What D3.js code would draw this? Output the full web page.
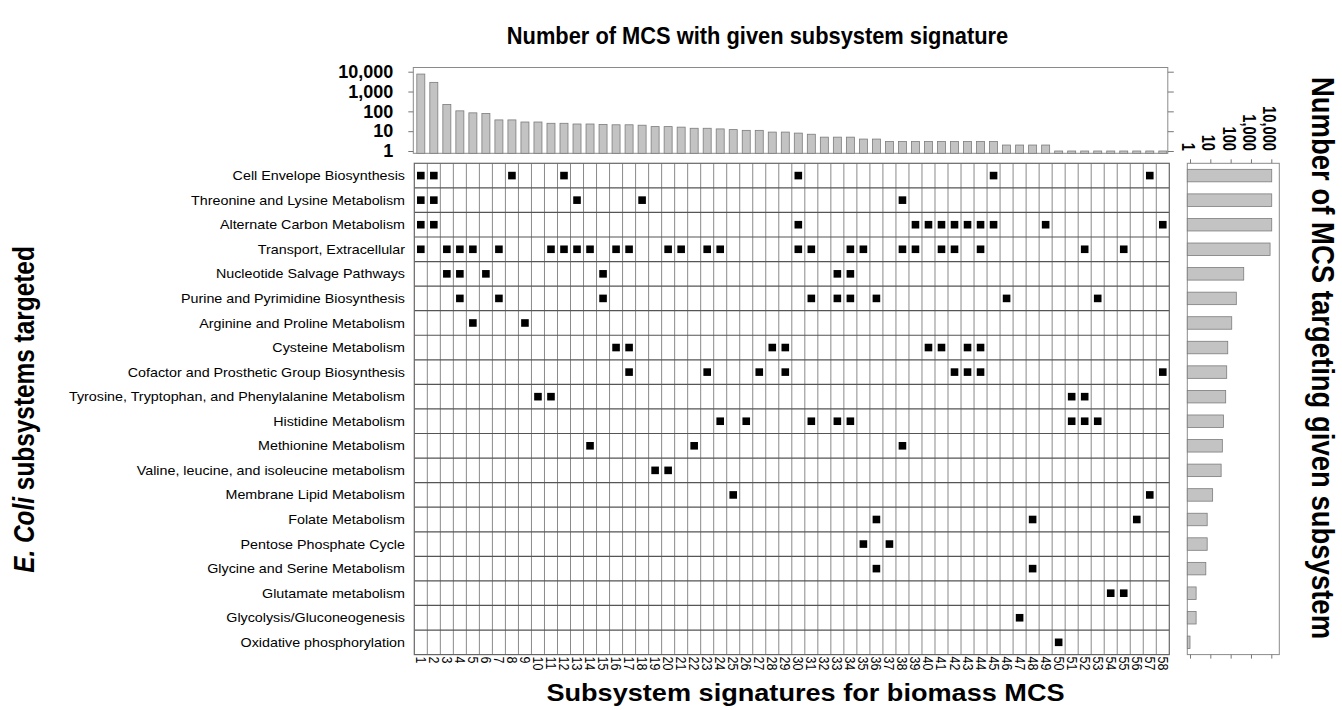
<!DOCTYPE html>
<html>
<head>
<meta charset="utf-8">
<script src="https://cdnjs.cloudflare.com/ajax/libs/d3/7.8.5/d3.min.js"></script>
<style>
    body { margin: 0; background: #fff; }
    svg text { font-family: "Liberation Sans", Arial, Helvetica, sans-serif; fill: #000; }
</style>
</head>
<body>
<div id="chart"></div>
<script>

var subsystems = [
    "Cell Envelope Biosynthesis",
    "Threonine and Lysine Metabolism",
    "Alternate Carbon Metabolism",
    "Transport, Extracellular",
    "Nucleotide Salvage Pathways",
    "Purine and Pyrimidine Biosynthesis",
    "Arginine and Proline Metabolism",
    "Cysteine Metabolism",
    "Cofactor and Prosthetic Group Biosynthesis",
    "Tyrosine, Tryptophan, and Phenylalanine Metabolism",
    "Histidine Metabolism",
    "Methionine Metabolism",
    "Valine, leucine, and isoleucine metabolism",
    "Membrane Lipid Metabolism",
    "Folate Metabolism",
    "Pentose Phosphate Cycle",
    "Glycine and Serine Metabolism",
    "Glutamate metabolism",
    "Glycolysis/Gluconeogenesis",
    "Oxidative phosphorylation"
];

var signatureLabels = ["1","2","3","4","5","6","7","8","9","10","11","12","13","14","15","16","17","18","19","20",
    "21","22","23","24","25","26","27","28","29","30","31","32","33","34","35","36","37","38","39","40",
    "41","42","43","44","45","46","47","48","49","50","51","52","53","54","55","56","57","58"];

// number of MCS per signature (top bars, log scale)
var signatureCounts = [7600, 2900, 224, 106, 84, 78, 37, 37, 29, 29, 25, 25, 23, 23, 22, 21, 21, 20, 17, 17,
    16, 14, 14, 13, 12, 11, 11, 9, 9, 8, 7, 5, 5, 5, 4, 4, 3, 3, 3, 3,
    3, 3, 3, 3, 3, 2, 2, 2, 2, 1, 1, 1, 1, 1, 1, 1, 1, 1];

// number of MCS targeting each subsystem (right bars, log scale)
var subsystemCounts = [10500, 10500, 10500, 8700, 440, 190, 113, 72, 64, 57, 44, 39, 34, 13, 7, 7, 6, 2, 2, 1];

// signatures (columns) that hit each subsystem (rows)
var signatureTargets = [
    [1, 2, 8, 12, 30, 45, 57],
    [1, 2, 13, 18, 38],
    [1, 2, 30, 39, 40, 41, 42, 43, 44, 45, 49, 58],
    [1, 3, 4, 5, 7, 11, 12, 13, 14, 16, 17, 20, 21, 23, 24, 30, 31, 34, 35, 38, 39, 41, 42, 44, 52, 55],
    [3, 4, 6, 15, 33, 34],
    [4, 7, 15, 31, 33, 34, 36, 46, 53],
    [5, 9],
    [16, 17, 28, 29, 40, 41, 43, 44],
    [17, 23, 27, 29, 42, 43, 44, 58],
    [10, 11, 51, 52],
    [24, 26, 31, 33, 34, 51, 52, 53],
    [14, 22, 38],
    [19, 20],
    [25, 57],
    [36, 48, 56],
    [35, 37],
    [36, 48],
    [54, 55],
    [47],
    [50]
];

var logTicks = [1, 10, 100, 1000, 10000];


SignatureMatrix = function(_parentElement){
    this.parentElement = _parentElement;
    this.initVis();
};

SignatureMatrix.prototype.initVis = function() {
    var vis = this;

    vis.width = 1342;
    vis.height = 710;

    vis.svg = d3.select("#" + vis.parentElement).append("svg")
        .attr("width", vis.width)
        .attr("height", vis.height);

    // matrix area
    vis.grid = {left: 414.3, right: 1169.3, top: 163.3, bottom: 654.6};
    // top bar panel
    vis.topPanel = {left: 413.3, right: 1167.8, top: 67.5, bottom: 153.3};
    // right bar panel
    vis.sidePanel = {left: 1187.3, right: 1279.3};

    vis.x = d3.scaleBand()
        .domain(signatureLabels)
        .range([vis.grid.left, vis.grid.right]);

    vis.y = d3.scaleBand()
        .domain(subsystems)
        .range([vis.grid.top, vis.grid.bottom]);

    vis.yTop = d3.scaleLog()
        .domain([1, 10000])
        .range([151, 71.7]);

    vis.xSide = d3.scaleLog()
        .domain([1, 10000])
        .range([1190, 1271.3]);

    vis.wrangleData();
};

SignatureMatrix.prototype.wrangleData = function(){
    var vis = this;

    vis.cells = [];
    signatureTargets.forEach(function(cols, i){
        cols.forEach(function(c){
            vis.cells.push({subsystem: subsystems[i], signature: String(c)});
        });
    });

    vis.topData = signatureLabels.map(function(s, i){ return {signature: s, value: signatureCounts[i]}; });
    vis.sideData = subsystems.map(function(s, i){ return {subsystem: s, value: subsystemCounts[i]}; });

    vis.updateVis();
};

SignatureMatrix.prototype.updateVis = function() {
    var vis = this;
    var bw = vis.x.bandwidth(), bh = vis.y.bandwidth();

    // ---- top bar chart ----
    vis.svg.append("rect")
        .attr("x", vis.topPanel.left)
        .attr("y", vis.topPanel.top)
        .attr("width", vis.topPanel.right - vis.topPanel.left)
        .attr("height", vis.topPanel.bottom - vis.topPanel.top)
        .attr("fill", "none")
        .attr("stroke", "#8a8a8a")
        .attr("stroke-width", 1);

    vis.svg.selectAll(".top-bar")
        .data(vis.topData)
        .enter().append("rect")
        .attr("class", "top-bar")
        .attr("x", function(d){ return vis.x(d.signature) + (bw - 8) / 2; })
        .attr("y", function(d){ return vis.yTop(d.value); })
        .attr("width", 8)
        .attr("height", function(d){ return vis.topPanel.bottom - vis.yTop(d.value); })
        .attr("fill", "#c3c3c3")
        .attr("stroke", "#7c7c7c")
        .attr("stroke-width", 0.8);

    var leftAxis = vis.svg.append("g")
        .attr("transform", "translate(" + vis.topPanel.left + ",0)")
        .call(d3.axisLeft(vis.yTop).tickValues(logTicks).tickSize(5).tickPadding(15)
            .tickFormat(d3.format(",")));
    leftAxis.select(".domain").remove();
    leftAxis.selectAll("line").attr("stroke", "#777");
    leftAxis.selectAll("text")
        .attr("font-size", 18)
        .attr("font-weight", "bold")
        .attr("font-family", "'Liberation Sans', Arial, sans-serif");

    var rightAxis = vis.svg.append("g")
        .attr("transform", "translate(" + vis.topPanel.right + ",0)")
        .call(d3.axisRight(vis.yTop).tickValues(logTicks).tickSize(6).tickFormat(""));
    rightAxis.select(".domain").remove();
    rightAxis.selectAll("line").attr("stroke", "#777");

    // ---- matrix ----
    vis.svg.append("rect")
        .attr("x", vis.grid.left)
        .attr("y", vis.grid.top)
        .attr("width", vis.grid.right - vis.grid.left)
        .attr("height", vis.grid.bottom - vis.grid.top)
        .attr("fill", "#fff");

    vis.svg.selectAll(".vline")
        .data(signatureLabels.slice(1))
        .enter().append("line")
        .attr("class", "vline")
        .attr("x1", function(d){ return vis.x(d); })
        .attr("x2", function(d){ return vis.x(d); })
        .attr("y1", vis.grid.top)
        .attr("y2", vis.grid.bottom)
        .attr("stroke", "#8a8a8a")
        .attr("stroke-width", 1);

    vis.svg.selectAll(".hline")
        .data(subsystems.slice(1))
        .enter().append("line")
        .attr("class", "hline")
        .attr("x1", vis.grid.left)
        .attr("x2", vis.grid.right)
        .attr("y1", function(d){ return vis.y(d); })
        .attr("y2", function(d){ return vis.y(d); })
        .attr("stroke", "#555")
        .attr("stroke-width", 1.2);

    vis.svg.append("rect")
        .attr("x", vis.grid.left)
        .attr("y", vis.grid.top)
        .attr("width", vis.grid.right - vis.grid.left)
        .attr("height", vis.grid.bottom - vis.grid.top)
        .attr("fill", "none")
        .attr("stroke", "#666")
        .attr("stroke-width", 1.2);

    vis.svg.selectAll(".cell")
        .data(vis.cells)
        .enter().append("rect")
        .attr("class", "cell")
        .attr("x", function(d){ return vis.x(d.signature) + bw / 2 - 3.8; })
        .attr("y", function(d){ return vis.y(d.subsystem) + bh / 2 - 3.8; })
        .attr("width", 7.6)
        .attr("height", 7.6)
        .attr("fill", "#000");

    // row labels
    vis.svg.selectAll(".row-label")
        .data(subsystems)
        .enter().append("text")
        .attr("class", "row-label")
        .attr("transform", function(d){
            return "translate(405," + (vis.y(d) + bh / 2) + ") scale(1.1,1)";
        })
        .attr("dy", "0.35em")
        .attr("text-anchor", "end")
        .attr("font-size", 13)
        .attr("fill", "#111")
        .text(function(d){ return d; });

    // column labels
    vis.svg.selectAll(".col-label")
        .data(signatureLabels)
        .enter().append("text")
        .attr("class", "col-label")
        .attr("transform", function(d){
            return "translate(" + (vis.x(d) + bw / 2 - 5) + "," + (vis.grid.bottom + 2) + ") scale(1.12,1) rotate(90)";
        })
        .attr("text-anchor", "start")
        .attr("font-size", 12.5)
        .text(function(d){ return d; });

    // ---- right bar chart ----
    vis.svg.append("rect")
        .attr("x", vis.sidePanel.left)
        .attr("y", vis.grid.top)
        .attr("width", vis.sidePanel.right - vis.sidePanel.left)
        .attr("height", vis.grid.bottom - vis.grid.top)
        .attr("fill", "none")
        .attr("stroke", "#8a8a8a")
        .attr("stroke-width", 1);

    vis.svg.selectAll(".side-bar")
        .data(vis.sideData)
        .enter().append("rect")
        .attr("class", "side-bar")
        .attr("x", vis.sidePanel.left)
        .attr("y", function(d){ return vis.y(d.subsystem) + (bh - 12.5) / 2; })
        .attr("width", function(d){ return vis.xSide(d.value) - vis.sidePanel.left; })
        .attr("height", 12.5)
        .attr("fill", "#c3c3c3")
        .attr("stroke", "#7c7c7c")
        .attr("stroke-width", 0.8);

    var sideTop = vis.svg.append("g")
        .attr("transform", "translate(0," + vis.grid.top + ")")
        .call(d3.axisTop(vis.xSide).tickValues(logTicks).tickSize(4).tickFormat(""));
    sideTop.select(".domain").remove();
    sideTop.selectAll("line").attr("stroke", "#777");

    var sideBottom = vis.svg.append("g")
        .attr("transform", "translate(0," + vis.grid.bottom + ")")
        .call(d3.axisBottom(vis.xSide).tickValues(logTicks).tickSize(4).tickFormat(""));
    sideBottom.select(".domain").remove();
    sideBottom.selectAll("line").attr("stroke", "#777");

    vis.svg.selectAll(".side-tick")
        .data(logTicks)
        .enter().append("text")
        .attr("class", "side-tick")
        .attr("transform", function(d){
            return "translate(" + (vis.xSide(d) - 8) + ",151) scale(1.2,1) rotate(90)";
        })
        .attr("text-anchor", "end")
        .attr("font-size", 14.7)
        .attr("font-weight", "bold")
        .text(d3.format(","));

    // ---- titles ----
    vis.svg.append("text")
        .attr("transform", "translate(757.5,44) scale(0.93,1)")
        .attr("text-anchor", "middle")
        .attr("font-size", 23.5)
        .attr("font-weight", "bold")
        .text("Number of MCS with given subsystem signature");

    vis.svg.append("text")
        .attr("transform", "translate(805.5,701) scale(1.13,1)")
        .attr("text-anchor", "middle")
        .attr("font-size", 24)
        .attr("font-weight", "bold")
        .text("Subsystem signatures for biomass MCS");

    var leftTitle = vis.svg.append("text")
        .attr("transform", "translate(33.5,409.5) scale(1.18,1) rotate(-90)")
        .attr("text-anchor", "middle")
        .attr("font-size", 24.4)
        .attr("font-weight", "bold");
    leftTitle.append("tspan").attr("font-style", "italic").text("E. Coli");
    leftTitle.append("tspan").text(" subsystems targeted");

    vis.svg.append("text")
        .attr("transform", "translate(1312,358) scale(1.12,1) rotate(90)")
        .attr("text-anchor", "middle")
        .attr("font-size", 27.5)
        .attr("font-weight", "bold")
        .text("Number of MCS targeting given subsystem");
};

var chart = new SignatureMatrix("chart");

</script>
</body>
</html>
